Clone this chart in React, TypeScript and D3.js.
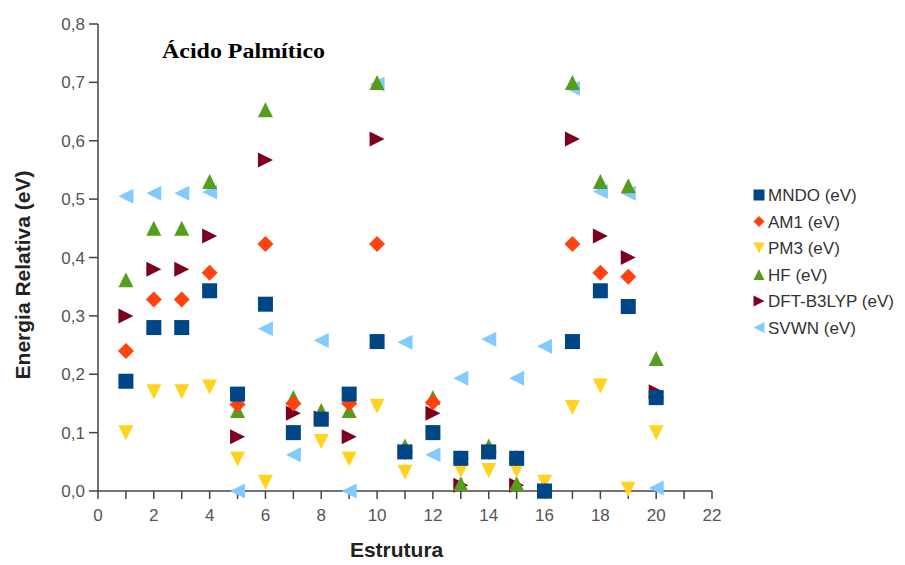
import React, { useEffect, useRef } from 'react';
import * as d3 from 'd3';

const estruturas = d3.range(1, 21);

const mndo = [0.188, 0.28, 0.28, 0.343, 0.166, 0.32, 0.10, 0.123, 0.166, 0.256, 0.067, 0.10, 0.056, 0.067, 0.056, 0.0, 0.256, 0.343, 0.316, 0.16];
const am1 = [0.24, 0.328, 0.328, 0.374, 0.148, 0.423, 0.15, 0.125, 0.15, 0.423, 0.067, 0.152, 0.056, 0.067, 0.056, 0.0, 0.423, 0.374, 0.367, 0.16];
const pm3 = [0.10, 0.17, 0.17, 0.178, 0.055, 0.015, 0.10, 0.085, 0.055, 0.145, 0.032, 0.10, 0.035, 0.035, 0.035, 0.015, 0.143, 0.18, 0.003, 0.10];
const hf = [0.362, 0.45, 0.45, 0.53, 0.138, 0.653, 0.16, 0.138, 0.138, 0.70, 0.077, 0.16, 0.013, 0.077, 0.013, 0.0, 0.70, 0.53, 0.523, 0.227];
const dft = [0.30, 0.38, 0.38, 0.437, 0.093, 0.567, 0.133, 0.125, 0.093, 0.603, 0.067, 0.133, 0.01, 0.067, 0.01, 0.0, 0.603, 0.437, 0.40, 0.17];
const svwn = [0.505, 0.51, 0.51, 0.512, 0.0, 0.278, 0.062, 0.258, 0.0, 0.697, 0.255, 0.062, 0.193, 0.26, 0.193, 0.248, 0.69, 0.513, 0.51, 0.005];

const seriesNames = ['MNDO (eV)', 'AM1 (eV)', 'PM3 (eV)', 'HF (eV)', 'DFT-B3LYP (eV)', 'SVWN (eV)'];
const seriesValues = [mndo, am1, pm3, hf, dft, svwn];
const seriesShapes = ['square', 'diamond', 'down', 'up', 'right', 'left'];
const seriesColors = ['#004586', '#ff420e', '#ffd320', '#579d1c', '#7e0021', '#83caff'];

const xTicks = d3.range(0, 23, 2);
const yTicks = d3.range(0, 0.81, 0.1);

// marker path centred on 0,0
const marker = (shape, r) => {
  switch (shape) {
    case 'square':
      return `M${-r},${-r}H${r}V${r}H${-r}Z`;
    case 'diamond':
      return `M0,${-r}L${r},0L0,${r}L${-r},0Z`;
    case 'down':
      return `M${-r},${-r}H${r}L0,${r}Z`;
    case 'up':
      return `M${-r},${r}H${r}L0,${-r}Z`;
    case 'right':
      return `M${-r},${-r}L${r},0L${-r},${r}Z`;
    default:
      return `M${r},${-r}L${-r},0L${r},${r}Z`;
  }
};

const App = () => {
  const svgRef = useRef();

  useEffect(() => {
    const width = 905;
    const height = 565;
    const margin = { top: 24, left: 98, right: 193, bottom: 74 };

    d3.select(svgRef.current).selectAll('*').remove();
    const svg = d3.select(svgRef.current)
      .attr('width', width)
      .attr('height', height);

    const x = d3.scaleLinear().domain([0, 22]).range([margin.left, width - margin.right]);
    const y = d3.scaleLinear().domain([0, 0.8]).range([height - margin.bottom, margin.top]);
    const fmt = v => d3.format('.1f')(v).replace('.', ',');

    // axes
    const axisColor = '#444';
    svg.append('line')
      .attr('x1', x(0)).attr('x2', x(0))
      .attr('y1', y(0.8)).attr('y2', y(0))
      .attr('stroke', axisColor).attr('stroke-width', 1.5);
    svg.append('line')
      .attr('x1', x(0)).attr('x2', x(22))
      .attr('y1', y(0)).attr('y2', y(0))
      .attr('stroke', axisColor).attr('stroke-width', 1.5);

    svg.selectAll('.ytick')
      .data(yTicks)
      .enter()
      .append('line')
        .attr('x1', x(0) - 9).attr('x2', x(0))
        .attr('y1', d => y(d)).attr('y2', d => y(d))
        .attr('stroke', axisColor).attr('stroke-width', 1.5);

    svg.selectAll('.ylabel')
      .data(yTicks)
      .enter()
      .append('text')
        .attr('x', x(0) - 13)
        .attr('y', d => y(d) + 6)
        .attr('text-anchor', 'end')
        .style('font-family', '"Liberation Sans", Arial, sans-serif')
        .style('font-size', '17px')
        .style('fill', '#555')
        .text(d => fmt(d));

    svg.selectAll('.xtick')
      .data(d3.range(0, 23))
      .enter()
      .append('line')
        .attr('x1', d => x(d)).attr('x2', d => x(d))
        .attr('y1', y(0)).attr('y2', y(0) + 8)
        .attr('stroke', axisColor).attr('stroke-width', 1.5);

    svg.selectAll('.xlabel')
      .data(xTicks)
      .enter()
      .append('text')
        .attr('x', d => x(d))
        .attr('y', y(0) + 30)
        .attr('text-anchor', 'middle')
        .style('font-family', '"Liberation Sans", Arial, sans-serif')
        .style('font-size', '17px')
        .style('fill', '#555')
        .text(d => d);

    // points: last series first, so MNDO ends up on top
    seriesValues.slice().reverse().forEach((vals, k) => {
      const i = seriesValues.length - 1 - k;
      svg.append('g')
        .selectAll('path')
        .data(vals)
        .enter()
        .append('path')
          .attr('transform', (d, j) => `translate(${x(estruturas[j])},${y(d)})`)
          .attr('d', marker(seriesShapes[i], seriesShapes[i] === 'diamond' ? 8 : 7.5))
          .attr('fill', seriesColors[i]);
    });

    // title
    svg.append('text')
      .attr('x', 162)
      .attr('y', 58)
      .attr('textLength', 163)
      .attr('lengthAdjust', 'spacingAndGlyphs')
      .style('font-family', '"Liberation Serif", "Times New Roman", serif')
      .style('font-size', '20px')
      .style('font-weight', 'bold')
      .style('fill', '#000')
      .text('Ácido Palmítico');

    // axis titles
    svg.append('text')
      .attr('x', x(10.7))
      .attr('y', 557)
      .attr('text-anchor', 'middle')
      .style('font-family', '"Liberation Sans", Arial, sans-serif')
      .style('font-size', '21px')
      .style('font-weight', 'bold')
      .style('fill', '#222')
      .text('Estrutura');

    svg.append('text')
      .attr('transform', 'translate(30,275) rotate(-90)')
      .attr('text-anchor', 'middle')
      .style('font-family', '"Liberation Sans", Arial, sans-serif')
      .style('font-size', '21px')
      .style('font-weight', 'bold')
      .style('fill', '#222')
      .text('Energia Relativa (eV)');

    // legend
    const legend = svg.append('g').attr('transform', 'translate(759,195)');
    seriesNames.forEach((name, i) => {
      const row = legend.append('g').attr('transform', `translate(0,${i * 26.5})`);
      row.append('path')
        .attr('d', marker(seriesShapes[i], 5.5))
        .attr('fill', seriesColors[i]);
      row.append('text')
        .attr('x', 9)
        .attr('y', 6)
        .style('font-family', '"Liberation Sans", Arial, sans-serif')
        .style('font-size', '17px')
        .style('fill', '#333')
        .text(name);
    });
  }, []);

  return (
    <div style={{ position: 'absolute', left: 0, top: 0, background: '#fff' }}>
      <svg ref={svgRef}></svg>
    </div>
  );
};

export default App;
